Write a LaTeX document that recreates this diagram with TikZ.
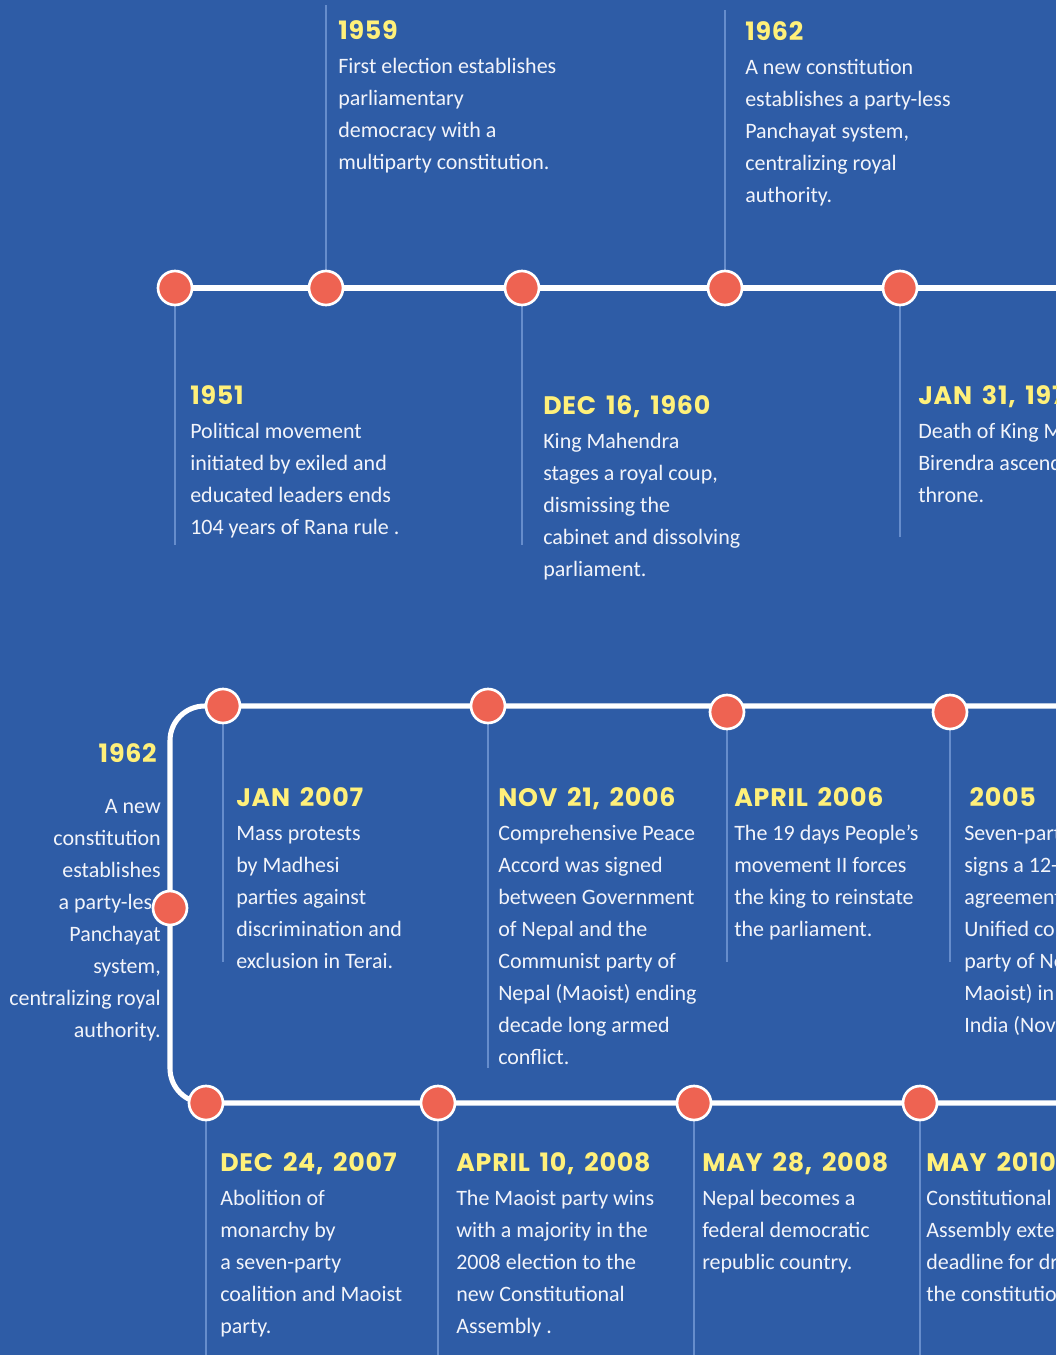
\documentclass[tikz,border=0pt]{standalone}
\usepackage{fontspec}
\setmainfont{Carlito}
\newfontfamily\headfont[LetterSpace=3,WordSpace=1.6]{Poppins}
\usetikzlibrary{positioning,backgrounds}

\definecolor{bgblue}{HTML}{2E5CA6}
\definecolor{dotred}{HTML}{EE6352}
\definecolor{stemblue}{HTML}{668DCC}
\definecolor{dateyellow}{HTML}{FFF07A}
\definecolor{bodywhite}{HTML}{F2F4FA}

\newcommand{\yr}[1]{{\headfont\bfseries\fontsize{19}{24}\selectfont\color{dateyellow}#1}}

\begin{document}
\begin{tikzpicture}[x=0.75pt, y=-0.75pt,
    dot/.style={circle, fill=dotred, draw=white, line width=2pt, minimum size=25.5pt, inner sep=0pt},
    stem/.style={stemblue, line width=1.9pt},
    track/.style={white, line width=3.8pt},
    event/.style={anchor=north west, inner sep=0pt, align=left, text=bodywhite, font=\fontsize{16.5}{24}\selectfont}
]
\useasboundingbox (0,0) rectangle (1056,1355);
\clip (0,0) rectangle (1056,1355);

% upper row
\node[event] (e1959) at (338,20) {\yr{1959}\\[1.5pt]First election establishes\\parliamentary\\democracy with a\\multiparty constitution.};
\node[event] (e1962) at (745,21) {\yr{1962}\\[1.5pt]A new constitution\\establishes a party-less\\Panchayat system,\\centralizing royal\\authority.};
\node[event] (e1951) at (190,385) {\yr{1951}\\[1.5pt]Political movement\\initiated by exiled and\\educated leaders ends\\104 years of Rana rule .};
\node[event] (e1960) at (543,395) {\yr{DEC 16, 1960}\\[1.5pt]King Mahendra\\stages a royal coup,\\dismissing the\\cabinet and dissolving\\parliament.};
\node[event] (e1972) at (918,385) {\yr{JAN 31, 1972}\\[1.5pt]Death of King Mahendra,\\Birendra ascends the\\throne.};

% loop
\node[event, anchor=north east, align=right] (e1962b) at (161,743) {\yr{1962}\rule{3pt}{0pt}\\[14.5pt]A new\\constitution\\establishes\\a party-less\\Panchayat\\system,\\centralizing royal\\authority.};
\node[event] (e2007j) at (236,787) {\yr{JAN 2007}\\[1.5pt]Mass protests\\by Madhesi\\parties against\\discrimination and\\exclusion in Terai.};
\node[event] (e2006n) at (498,787) {\yr{NOV 21, 2006}\\[1.5pt]Comprehensive Peace\\Accord was signed\\between Government\\of Nepal and the\\Communist party of\\Nepal (Maoist) ending\\decade long armed\\conflict.};
\node[event] (e2006a) at (734,787) {\yr{APRIL 2006}\\[1.5pt]The 19 days People’s\\movement II forces\\the king to reinstate\\the parliament.};
\node[event] (e2005) at (964,787) {\hspace{4pt}\yr{2005}\\[1.5pt]Seven-party alliance\\signs a 12-point\\agreement with the\\Unified communist\\party of Nepal (\\Maoist) in New Delhi,\\India (November 2005).};
\node[event] (e2007d) at (220,1152) {\yr{DEC 24, 2007}\\[1.5pt]Abolition of\\monarchy by\\a seven-party\\coalition and Maoist\\party.};
\node[event] (e2008a) at (456,1152) {\yr{APRIL 10, 2008}\\[1.5pt]The Maoist party wins\\with a majority in the\\2008 election to the\\new Constitutional\\Assembly .};
\node[event] (e2008m) at (702,1152) {\yr{MAY 28, 2008}\\[1.5pt]Nepal becomes a\\federal democratic\\republic country.};
\node[event] (e2010) at (926,1152) {\yr{MAY 2010}\\[1.5pt]Constitutional\\Assembly extends the\\deadline for drafting\\the constitution.};

% dots
\node[dot] (d1951) at (175,288) {};
\node[dot] (d1959) at (326,288) {};
\node[dot] (d1960) at (522,288) {};
\node[dot] (d1962) at (725,288) {};
\node[dot] (d1972) at (900,288) {};
\node[dot] (d1962b) at (170,908) {};
\node[dot] (d2007j) at (223,706) {};
\node[dot] (d2006n) at (488,706) {};
\node[dot] (d2006a) at (727,712) {};
\node[dot] (d2005) at (950,712) {};
\node[dot] (d2007d) at (206,1103) {};
\node[dot] (d2008a) at (438,1103) {};
\node[dot] (d2008m) at (694,1103) {};
\node[dot] (d2010) at (920,1103) {};

% ends of lines
\coordinate (endA) at (1060,288);
\coordinate (endB) at (1060,706);
\coordinate (cornerT) at (170,706);
\coordinate (cornerB) at (170,1103);
\coordinate (endC) at (1060,1103);
\coordinate (s1959) at (326,5);
\coordinate (s1962) at (725,10);
\coordinate (s1951) at (175,545);
\coordinate (s1960) at (522,545);
\coordinate (s1972) at (900,537);
\coordinate (s2007j) at (223,962);
\coordinate (s2006n) at (488,1068);
\coordinate (s2006a) at (727,962);
\coordinate (s2005) at (950,962);
\coordinate (s2007d) at (206,1360);
\coordinate (s2008a) at (438,1360);
\coordinate (s2008m) at (694,1360);
\coordinate (s2010) at (920,1360);

\begin{scope}[on background layer]
\fill[bgblue] (0,0) rectangle (1056,1355);
\foreach \e in {1959,1962,1951,1960,1972,2007j,2006n,2006a,2005,2007d,2008a,2008m,2010}
  \draw[stem] (d\e) -- (s\e);
\draw[track] (d1951) -- (endA);
\draw[track, rounded corners=26pt] (endB) -- (cornerT) -- (cornerB) -- (endC);
\end{scope}
\end{tikzpicture}
\end{document}
